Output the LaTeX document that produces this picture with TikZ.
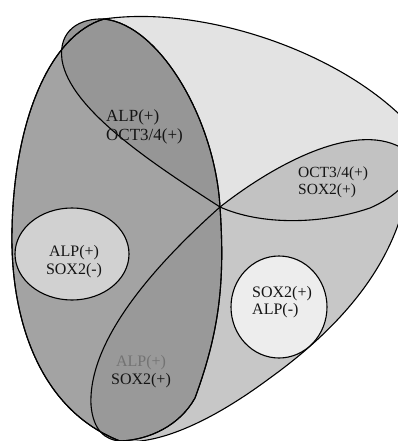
\documentclass[tikz,border=0pt]{standalone}
\usepackage{fontspec}
\setmainfont{Liberation Serif}
% outlines of the parts, in picture pixels
\newcommand{\Body}{(104,19) .. controls (200,5) and (340,50) .. (410,125) .. controls (418,210) and (385,295) .. (270,378) .. controls (200,430) and (150,445) .. (120,441) .. controls (40,410) and (10,320) .. (12,230) .. controls (14,120) and (50,35) .. (104,19) -- cycle}
\newcommand{\LeftPart}{(120,441) .. controls (40,410) and (10,320) .. (12,230) .. controls (14,120) and (50,35) .. (104,19) .. controls (160,25) and (215,120) .. (220,207) .. controls (225,280) and (220,330) .. (195,398) .. controls (180,425) and (150,440) .. (120,441) -- cycle}
\newcommand{\TopPetal}{(220,207) .. controls (155,165) and (70,110) .. (62,60) .. controls (58,30) and (80,18) .. (104,19) .. controls (160,25) and (215,120) .. (220,207) -- cycle}
\newcommand{\BotPetal}{(220,207) .. controls (155,265) and (88,340) .. (91,405) .. controls (93,430) and (105,440) .. (120,441) .. controls (150,440) and (180,425) .. (195,398) .. controls (220,330) and (225,280) .. (220,207) -- cycle}
\newcommand{\RightPetal}{(220,207) .. controls (280,160) and (360,120) .. (405,150) .. controls (425,170) and (400,195) .. (370,208) .. controls (320,225) and (260,225) .. (220,207) -- cycle}

\begin{document}
\begin{tikzpicture}[x=1pt, y=-1pt,
    edge/.style={draw=black, line width=1.1pt},
    lbl/.style={font=\fontsize{16}{18}\selectfont, inner sep=0pt, text=black!92}
]
\clip (0,0) rectangle (398,441);

% body and the lower right part
\fill[black!11] \Body;
\begin{scope}
  \clip \Body;
  \fill[black!22] (220,207) -- (300,195) -- (420,165) -- (420,441) -- (118,441) -- cycle;
  \fill[black!24] \RightPetal;
  \draw[edge] \RightPetal;
\end{scope}

% left part with its two petals
\fill[black!36] \LeftPart;
\fill[black!41] \TopPetal;
\fill[black!40] \BotPetal;
\draw[edge] \LeftPart;
\draw[edge] \TopPetal;
\draw[edge] \BotPetal;
\draw[edge] \Body;

% the two small sets
\draw[edge, fill=black!18] (72,254) ellipse [x radius=57pt, y radius=46pt];
\draw[edge, fill=black!7] (279,307) ellipse [x radius=48pt, y radius=51pt];

% labels
\node[lbl, font=\fontsize{17}{19}\selectfont, align=left, anchor=west] (alpOct) at (106,127) {ALP(+)\\OCT3/4(+)};
\node[lbl, font=\fontsize{15.5}{17}\selectfont, align=left, anchor=west] (octSox) at (298,182) {OCT3/4(+)\\SOX2(+)};
\node[lbl, align=center] (alpSoxNeg) at (74,262) {ALP(+)\\SOX2(-)};
\node[lbl, font=\fontsize{16}{17}\selectfont, align=left, anchor=west] (soxAlpNeg) at (252,302) {SOX2(+)\\ALP(-)};
\node[lbl, align=center] (alpSox) at (141,372) {\textcolor{black!55}{ALP(+)}\\SOX2(+)};
\end{tikzpicture}
\end{document}
